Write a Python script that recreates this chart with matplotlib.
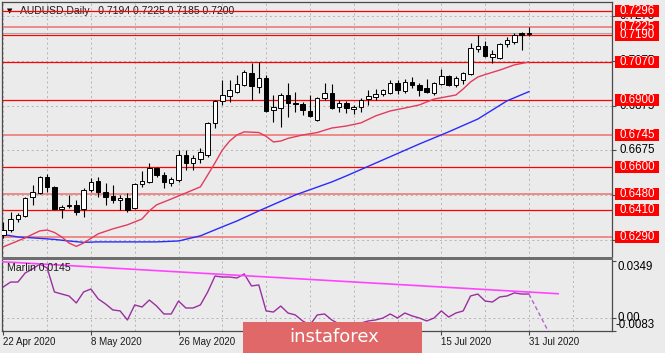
import numpy as np
import matplotlib
matplotlib.use("Agg")
import matplotlib.pyplot as plt
import matplotlib.transforms as mtransforms
from matplotlib.patches import Rectangle

plt.rcParams["font.family"] = ["Liberation Sans", "DejaVu Sans"]

# AUDUSD daily candles, 22 Apr .. 31 Jul 2020
opens = [0.6299, 0.6321, 0.6370, 0.6384, 0.6468, 0.6486, 0.6557, 0.6513, 0.6415, 0.6428,
         0.6433, 0.6415, 0.6499, 0.6540, 0.6491, 0.6473, 0.6455, 0.6464, 0.6419, 0.6526,
         0.6535, 0.6597, 0.6566, 0.6531, 0.6544, 0.6655, 0.6620, 0.6637, 0.6655, 0.6798,
         0.6896, 0.6918, 0.6936, 0.6967, 0.7020, 0.6958, 0.6998, 0.6855, 0.6864, 0.6922,
         0.6887, 0.6882, 0.6851, 0.6811, 0.6909, 0.6931, 0.6869, 0.6887, 0.6860, 0.6869,
         0.6904, 0.6913, 0.6927, 0.6931, 0.6976, 0.6940, 0.6980, 0.6967, 0.6953, 0.6931,
         0.6971, 0.7007, 0.6967, 0.6989, 0.7016, 0.7127, 0.7140, 0.7091, 0.7087, 0.7149,
         0.7158, 0.7198, 0.7194]
highs = [0.6357, 0.6401, 0.6397, 0.6468, 0.6522, 0.6562, 0.6571, 0.6517, 0.6433, 0.6477,
         0.6455, 0.6508, 0.6553, 0.6557, 0.6531, 0.6522, 0.6477, 0.6486, 0.6531, 0.6584,
         0.6620, 0.6602, 0.6580, 0.6557, 0.6677, 0.6677, 0.6655, 0.6686, 0.6802, 0.6900,
         0.6989, 0.6989, 0.7011, 0.7033, 0.7065, 0.7069, 0.7011, 0.6922, 0.6931, 0.6976,
         0.6936, 0.6891, 0.6922, 0.6913, 0.6976, 0.6971, 0.6900, 0.6896, 0.6878, 0.6909,
         0.6944, 0.6949, 0.6949, 0.6989, 0.6989, 0.6994, 0.7002, 0.6976, 0.6994, 0.6980,
         0.7038, 0.7011, 0.7007, 0.7025, 0.7154, 0.7189, 0.7163, 0.7122, 0.7154, 0.7180,
         0.7198, 0.7203, 0.7225]
lows = [0.6286, 0.6312, 0.6357, 0.6379, 0.6433, 0.6482, 0.6491, 0.6410, 0.6375, 0.6419,
        0.6388, 0.6379, 0.6491, 0.6468, 0.6433, 0.6442, 0.6410, 0.6402, 0.6415, 0.6513,
        0.6531, 0.6557, 0.6508, 0.6517, 0.6535, 0.6588, 0.6588, 0.6620, 0.6646, 0.6775,
        0.6878, 0.6891, 0.6931, 0.6962, 0.6900, 0.6931, 0.6847, 0.6802, 0.6780, 0.6824,
        0.6847, 0.6833, 0.6824, 0.6807, 0.6900, 0.6860, 0.6847, 0.6842, 0.6838, 0.6847,
        0.6878, 0.6900, 0.6918, 0.6927, 0.6927, 0.6931, 0.6953, 0.6918, 0.6931, 0.6922,
        0.6967, 0.6962, 0.6958, 0.6971, 0.7011, 0.7114, 0.7091, 0.7065, 0.7082, 0.7136,
        0.7149, 0.7122, 0.7185]
closes = [0.6321, 0.6370, 0.6388, 0.6464, 0.6491, 0.6557, 0.6513, 0.6415, 0.6424, 0.6433,
          0.6402, 0.6499, 0.6535, 0.6491, 0.6468, 0.6455, 0.6464, 0.6410, 0.6526, 0.6540,
          0.6597, 0.6566, 0.6535, 0.6548, 0.6655, 0.6620, 0.6642, 0.6669, 0.6798, 0.6896,
          0.6922, 0.6944, 0.6971, 0.7025, 0.6962, 0.6998, 0.6851, 0.6869, 0.6922, 0.6887,
          0.6882, 0.6855, 0.6829, 0.6909, 0.6931, 0.6864, 0.6887, 0.6864, 0.6869, 0.6900,
          0.6918, 0.6927, 0.6944, 0.6976, 0.6944, 0.6980, 0.6967, 0.6944, 0.6936, 0.6976,
          0.7007, 0.6967, 0.6998, 0.7020, 0.7131, 0.7140, 0.7096, 0.7105, 0.7149, 0.7167,
          0.7189, 0.7191, 0.7200]

# moving averages, read at selected bars
red_ma_bar = [0, 3, 5, 6, 7, 8, 9, 10, 11, 13, 15, 17, 19, 20, 21, 23, 25, 27, 28, 29, 30, 31, 32, 33,
              35, 36, 37, 38, 39, 41, 43, 45, 47, 49, 51, 53, 55, 57, 59, 61, 62, 63, 64, 65, 66, 68, 70, 72]
red_ma = [0.6246, 0.6286, 0.6317, 0.6321, 0.6310, 0.6290, 0.6263, 0.6248, 0.6263, 0.6304, 0.6326, 0.6344,
          0.6370, 0.6406, 0.6433, 0.6459, 0.6486, 0.6513, 0.6566, 0.6620, 0.6677, 0.6717, 0.6744, 0.6758,
          0.6755, 0.6738, 0.6713, 0.6717, 0.6729, 0.6744, 0.6755, 0.6775, 0.6784, 0.6798, 0.6829, 0.6851,
          0.6864, 0.6878, 0.6904, 0.6916, 0.6922, 0.6949, 0.6980, 0.7002, 0.7013, 0.7033, 0.7056, 0.7069]
blue_ma_bar = [0, 2, 4, 7, 9, 11, 13, 17, 21, 24, 27, 30, 32, 35, 40, 45, 47, 52, 57, 61, 65, 69, 72]
blue_ma = [0.6301, 0.6290, 0.6286, 0.6279, 0.6272, 0.6266, 0.6268, 0.6268, 0.6268, 0.6272, 0.6295, 0.6335,
           0.6361, 0.6406, 0.6477, 0.6535, 0.6562, 0.6633, 0.6704, 0.6758, 0.6815, 0.6896, 0.6937]

# Marlin oscillator
marlin = [0.0189, 0.0219, 0.0219, 0.0275, 0.0300, 0.0330, 0.0306, 0.0158, 0.0145, 0.0133,
          0.0090, 0.0158, 0.0176, 0.0115, 0.0084, 0.0047, 0.0041, -0.0015, 0.0078, 0.0065,
          0.0108, 0.0071, 0.0022, 0.0022, 0.0102, 0.0059, 0.0059, 0.0078, 0.0158, 0.0256,
          0.0250, 0.0250, 0.0244, 0.0269, 0.0195, 0.0201, 0.0041, 0.0034, 0.0071, 0.0028,
          0.0016, -0.0021, -0.0046, 0.0016, 0.0022, -0.0015, -0.0040, -0.0052, -0.0046, -0.0034,
          -0.0021, -0.0015, -0.0003, 0.0022, -0.0003, 0.0028, 0.0010, -0.0003, -0.0021, -0.0003,
          0.0041, 0.0003, 0.0028, 0.0041, 0.0133, 0.0145, 0.0102, 0.0096, 0.0127, 0.0133,
          0.0152, 0.0145, 0.0145]
trend_bar = [-0.45, 76]
trend_val = [0.0345, 0.0147]
proj_bar = [72, 75]
proj_val = [0.0145, -0.0115]

levels = [0.7296, 0.7225, 0.7190, 0.7070, 0.6900, 0.6745, 0.6600, 0.6480, 0.6410, 0.6290]
pale_levels = [0.7225, 0.6745, 0.6480, 0.6290]
grid_prices = [0.7275, 0.7075, 0.6875, 0.6675, 0.6475, 0.6275]
date_bar = [0, 12, 24, 36, 48, 60, 72]
date_labels = ["22 Apr 2020", "8 May 2020", "26 May 2020", "11 Jun 2020",
               "29 Jun 2020", "15 Jul 2020", "31 Jul 2020"]

BG = "#ebebeb"
GRID = "#b4b4b4"
SPINE = "#4a4a4a"
W, H = 665, 353


def fx(px):
    return px / W


def fy(py):
    return 1 - py / H


fig = plt.figure(figsize=(6.65, 3.53), dpi=100, facecolor=BG)
ax = fig.add_axes([fx(2), fy(257.5), fx(612) - fx(2), fy(2) - fy(257.5)], facecolor=BG)
sub = fig.add_axes([fx(2), fy(331), fx(612) - fx(2), fy(260) - fy(331)], facecolor=BG, sharex=ax)

ax.set_xlim(-0.18, 83.38)
ax.set_ylim(0.61985, 0.73361)
sub.set_ylim(-0.0083, 0.0355)

# ---- grid ----
for g in range(0, 84, 6):
    ax.axvline(g, color=GRID, lw=0.7, ls=(0, (2, 3)), zorder=1)
    sub.axvline(g, color=GRID, lw=0.7, ls=(0, (2, 3)), zorder=1)
for gp in grid_prices:
    ax.axhline(gp, color=GRID, lw=0.7, ls=(0, (2, 3)), zorder=1)
sub.axhline(0, color=GRID, lw=0.7, ls=(0, (2, 3)), zorder=1)

# bid line
ax.axhline(closes[-1], color="#a8a8a8", lw=0.8, zorder=1.5)

# ---- level lines ----
for lv in levels:
    col = "#f07070" if lv in pale_levels else "#ff0000"
    ax.axhline(lv, color=col, lw=1.1 if lv in pale_levels else 0.9, zorder=2.5)

# ---- moving averages ----
ax.plot(blue_ma_bar, blue_ma, color="#2a2aff", lw=1.0, zorder=2.6)
ax.plot(red_ma_bar, red_ma, color="#e23c5c", lw=1.0, zorder=2.6)

# ---- candles ----
bars = np.arange(len(opens))
o, h, l, c = map(np.array, (opens, highs, lows, closes))
up = c >= o
ax.vlines(bars, l, h, color="black", lw=0.8, zorder=3)
body_lo = np.minimum(o, c)
body_h = np.maximum(np.abs(c - o), 0.0004)
ax.bar(bars, body_h, bottom=body_lo, width=0.62,
       color=np.where(up, "white", "black"), edgecolor="black", linewidth=0.7, zorder=4)

# title inside chart
ax.text(fx(7 - 2) * W / 610, 1 - 9 / 255.5, "\u25bc", transform=ax.transAxes,
        fontsize=5, va="center", ha="left", color="black", family="DejaVu Sans", zorder=2)
ax.text(18 / 610, 1 - 9 / 255.5, "AUDUSD,Daily   0.7194 0.7225 0.7185 0.7200",
        transform=ax.transAxes, fontsize=7.5, va="center", ha="left", color="#1a1a1a", zorder=2)

# ---- right price scale ----
tr = mtransforms.blended_transform_factory(fig.transFigure, ax.transData)
px_unit = (0.73361 - 0.61985) / 255.5
for gp in grid_prices:
    ax.text(fx(619), gp, f"{gp:.4f}", transform=tr, fontsize=8.3, va="center", ha="left",
            color="black", clip_on=False, zorder=4.5)
for lv in sorted(levels):
    ax.add_patch(Rectangle((fx(615), lv - 6 * px_unit), fx(659) - fx(615), 12 * px_unit,
                           transform=tr, facecolor="#ff0000", edgecolor="none",
                           clip_on=False, zorder=5))
    ax.text(fx(619), lv, f"{lv:.4f}", transform=tr, fontsize=8.3, va="center", ha="left",
            color="white", clip_on=False, zorder=5.1)

ax.set_yticks(grid_prices)
ax.tick_params(axis="y", left=False, right=True, labelleft=False, labelright=False,
               length=3, color=SPINE, width=0.8)
ax.tick_params(axis="x", bottom=False, labelbottom=False)

# ---- Marlin panel ----
sub.plot(bars, marlin, color="#9a2fa0", lw=1.0, zorder=3)
sub.plot(trend_bar, trend_val, color="#ff44ff", lw=1.2, zorder=3.2)
sub.plot(proj_bar, proj_val, color="#b266cc", lw=1.0, ls=(0, (3, 2)), zorder=3)
sub.text(5 / 610, 0.887, "Marlin 0.0145", transform=sub.transAxes, fontsize=7.6,
         va="center", ha="left", color="#1a1a1a", zorder=4)

tr2 = mtransforms.blended_transform_factory(fig.transFigure, sub.transData)
sub.text(fx(618), 0.0349, "0.0349", transform=tr2, fontsize=8.3, va="top", ha="left",
         color="black", clip_on=False)
sub.text(fx(617), 0.0, "0.00", transform=tr2, fontsize=8.3, va="center", ha="left",
         color="black", clip_on=False)
sub.text(fx(616), -0.0083, "-0.0083", transform=tr2, fontsize=8.3, va="bottom", ha="left",
         color="black", clip_on=False)
sub.set_yticks([0.0349, 0.0, -0.0083])
sub.tick_params(axis="y", left=False, right=True, labelleft=False, labelright=False,
                length=3, color=SPINE, width=0.8)

sub.set_xticks(date_bar)
sub.set_xticklabels(date_labels, ha="left")
sub.tick_params(axis="x", length=3, width=0.8, color=SPINE, labelsize=7, pad=1.5,
                labelcolor="#1a1a1a")

for a in (ax, sub):
    for s in a.spines.values():
        s.set_color(SPINE)
        s.set_linewidth(0.9)
ax.spines["bottom"].set_visible(False)
sub.spines["top"].set_visible(False)

# panel separator
fig.add_artist(Rectangle((fx(2), fy(260)), fx(613) - fx(2), fy(257) - fy(260),
                         transform=fig.transFigure, facecolor="#6e6e6e", edgecolor="none", zorder=5))

# watermark
fig.add_artist(Rectangle((fx(243), fy(353)), fx(422) - fx(243), fy(322) - fy(353),
                         transform=fig.transFigure, facecolor="#e06868", edgecolor="none", zorder=10))
fig.text(fx(289), fy(336.5), "instaforex", fontsize=13, color="white", va="center", ha="left",
         family="DejaVu Sans", zorder=11)

fig.savefig("out.png", dpi=100, facecolor=BG)
